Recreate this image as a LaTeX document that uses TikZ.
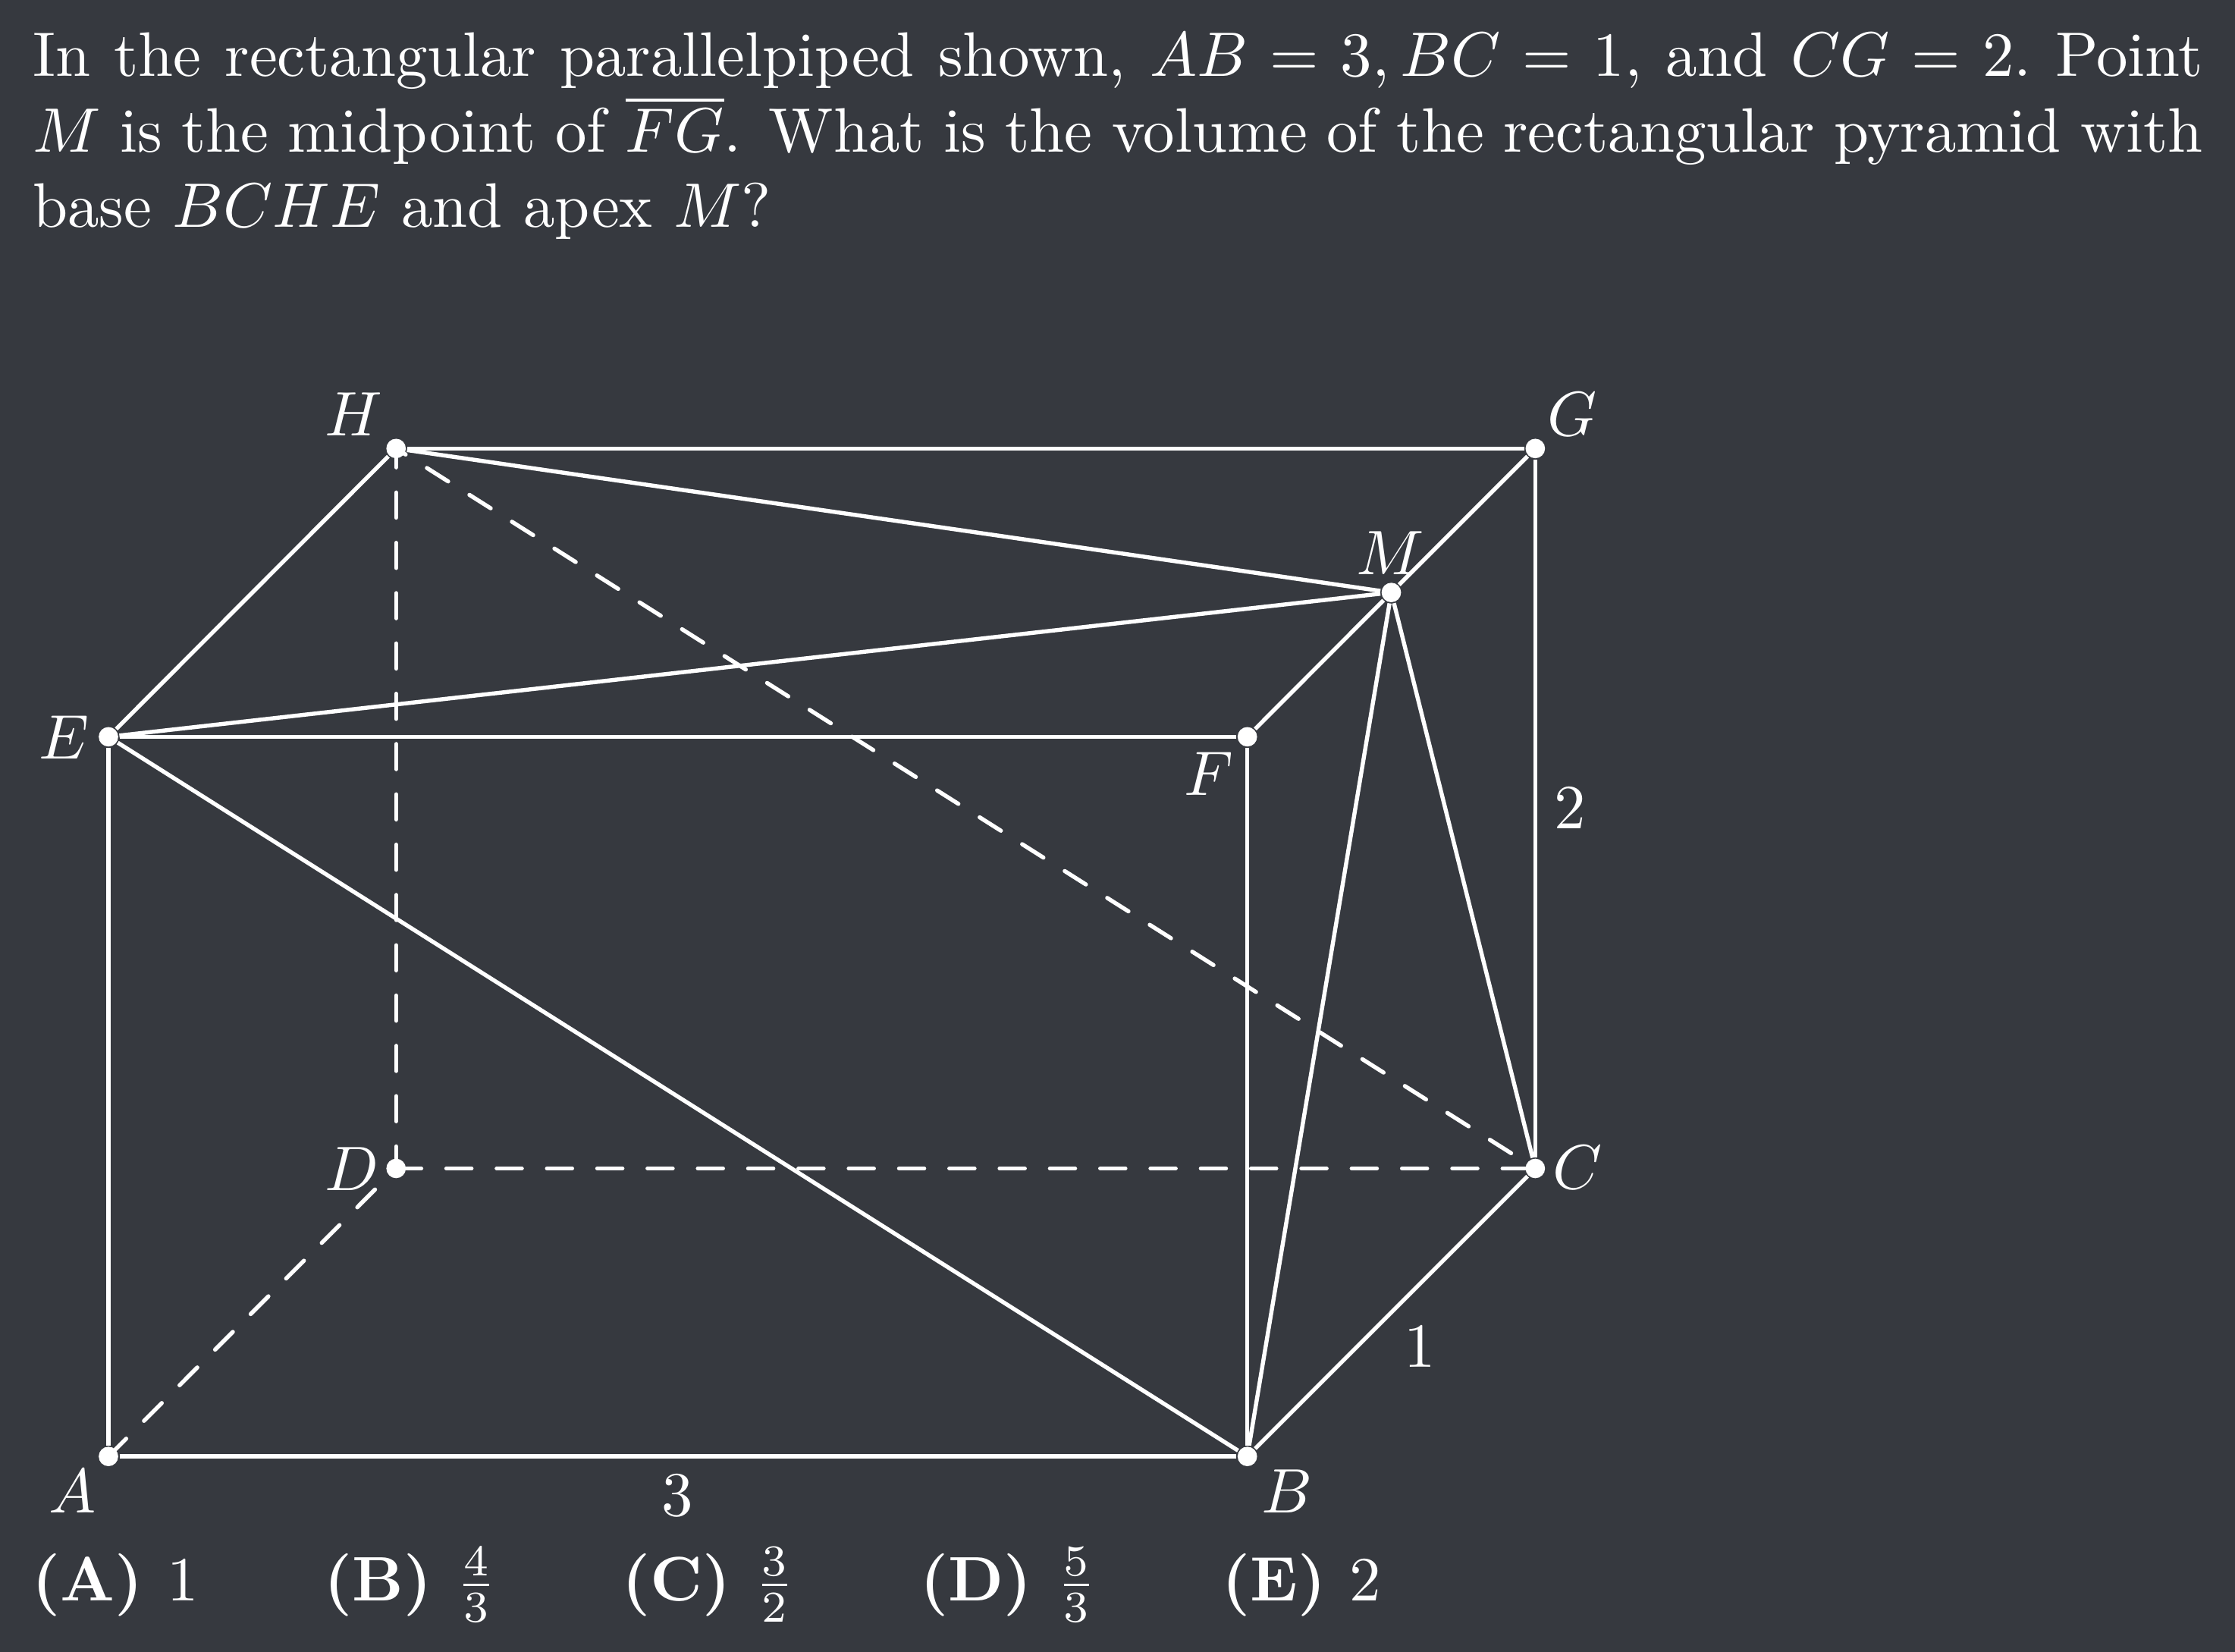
\documentclass[tikz,border=0pt]{standalone}
\usepackage{tikz}
\definecolor{bgdark}{HTML}{36393F}
\tikzset{pt/.style = {circle, fill=white, minimum size=3.1pt, inner sep=0pt},
           lb/.style = {text=white, inner sep=0pt},
           ed/.style = {white, line width=0.65pt},
           hd/.style = {white, line width=0.65pt, line cap=round, dash pattern=on 4pt off 4pt}}

\begin{document}
\begin{tikzpicture}[x=1pt, y=1pt]
    \fill[bgdark] (0,0) rectangle (355.5,262.73);
    \useasboundingbox (0,0) rectangle (355.5,262.73);
    \node[lb, anchor=north west, text width=345.2pt, align=justify] (qtext) at (5.0,257.7) {In the rectangular parallelpiped shown, $AB = 3, BC = 1,$ and $CG = 2.$ Point $M$ is the midpoint of $\overline{FG}$. What is the volume of the rectangular pyramid with base $BCHE$ and apex $M$?};
    \node[pt] (A) at (17.25,31.1) {}; \node[pt] (B) at (198.4,31.1) {}; \node[pt] (C) at (244.2,76.9) {}; \node[pt] (D) at (63.0,76.9) {};
    \node[pt] (E) at (17.25,145.55) {}; \node[pt] (F) at (198.4,145.55) {}; \node[pt] (G) at (244.2,191.4) {}; \node[pt] (H) at (63.0,191.4) {};
    \node[pt] (M) at (221.3,168.5) {};
    \node[lb] (lA) at (11.5,25.5) {$A$}; \node[lb] (lB) at (204.7,25.5) {$B$}; \node[lb] (lC) at (250.9,77.1) {$C$}; \node[lb] (lD) at (56.0,76.8) {$D$};
    \node[lb] (lE) at (10.2,145.5) {$E$}; \node[lb] (lF) at (192.3,139.7) {$F$}; \node[lb] (lG) at (250.1,196.8) {$G$}; \node[lb] (lH) at (56.2,196.8) {$H$};
    \node[lb] (lM) at (221.1,174.8) {$M$};
    \node[lb] (len3) at (107.7,24.9) {$3$}; \node[lb] (len1) at (225.8,48.5) {$1$}; \node[lb] (len2) at (249.7,134.2) {$2$};
    \draw[ed] (A) -- (B);
    \draw[ed] (B) -- (C);
    \draw[ed] (C) -- (G);
    \draw[ed] (G) -- (H);
    \draw[ed] (H) -- (E);
    \draw[ed] (E) -- (A);
    \draw[ed] (E) -- (F);
    \draw[ed] (F) -- (B);
    \draw[ed] (F) -- (M);
    \draw[ed] (M) -- (G);
    \draw[ed] (E) -- (B);
    \draw[ed] (E) -- (M);
    \draw[ed] (H) -- (M);
    \draw[ed] (B) -- (M);
    \draw[ed] (C) -- (M);
    \draw[hd] (A.center) -- (D.center);
    \draw[hd] (D.center) -- (C.center);
    \draw[hd, dash phase=0.5pt] (D.center) -- (H.center);
    \draw[hd, dash phase=2.2pt] (H.center) -- (C.center);
    \node[lb, anchor=base west] (choices) at (4.95,8.2) {$\textbf{(A) }1 \qquad \textbf{(B) }\frac{4}{3} \qquad \textbf{(C) }\frac{3}{2} \qquad \textbf{(D) }\frac{5}{3} \qquad \textbf{(E) }2$};
\end{tikzpicture}
\end{document}
